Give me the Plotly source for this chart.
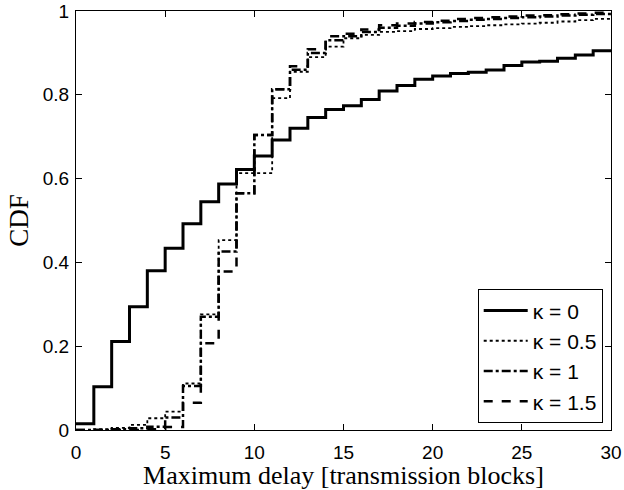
import plotly.graph_objects as go

x_blocks = list(range(0, 31))

cdf_k0 = [0.015, 0.103, 0.211, 0.294, 0.380, 0.434, 0.492, 0.545, 0.587, 0.622,
          0.654, 0.692, 0.720, 0.746, 0.765, 0.774, 0.789, 0.809, 0.822, 0.837,
          0.845, 0.851, 0.854, 0.859, 0.870, 0.878, 0.880, 0.887, 0.895, 0.905, 0.907]
cdf_k05 = [0.0, 0.002, 0.005, 0.012, 0.028, 0.044, 0.111, 0.276, 0.453, 0.613,
           0.613, 0.792, 0.855, 0.890, 0.915, 0.935, 0.943, 0.950, 0.952, 0.957,
           0.959, 0.962, 0.964, 0.966, 0.968, 0.970, 0.972, 0.975, 0.978, 0.981, 0.984]
cdf_k1 = [0.0, 0.0, 0.002, 0.004, 0.008, 0.030, 0.105, 0.270, 0.426, 0.565,
          0.704, 0.813, 0.860, 0.900, 0.930, 0.940, 0.950, 0.960, 0.965, 0.970,
          0.973, 0.976, 0.979, 0.981, 0.983, 0.985, 0.987, 0.989, 0.991, 0.993, 0.995]
cdf_k15 = [0.0, 0.0, 0.0, 0.0, 0.002, 0.007, 0.065, 0.207, 0.378, 0.565,
           0.704, 0.813, 0.868, 0.909, 0.940, 0.946, 0.956, 0.966, 0.970, 0.974,
           0.977, 0.981, 0.983, 0.985, 0.987, 0.989, 0.990, 0.992, 0.994, 0.996, 0.998]

series = [
    ("κ = 0", cdf_k0, "solid", 3),
    ("κ = 0.5", cdf_k05, "dot", 1.8),
    ("κ = 1", cdf_k1, "dashdot", 2.5),
    ("κ = 1.5", cdf_k15, "dash", 2.5),
]

fig = go.Figure()
for name, vals, dash, w in series:
    fig.add_trace(go.Scatter(x=x_blocks, y=vals, mode="lines", name=name,
                             line=dict(color="black", width=w, dash=dash, shape="hv")))

axis_common = dict(showline=True, linecolor="black", linewidth=1, mirror="ticks",
                   ticks="inside", ticklen=6, tickcolor="black", showgrid=False,
                   zeroline=False, automargin=False,
                   tickfont=dict(family="Liberation Sans, Arial", size=19, color="black"))

fig.update_layout(
    width=624, height=490,
    margin=dict(l=76, r=13, t=11, b=60, autoexpand=False),
    paper_bgcolor="white", plot_bgcolor="white",
    xaxis=dict(range=[0, 30], tickvals=[0, 5, 10, 15, 20, 25, 30],
               ticklabelstandoff=5,
               title=dict(text="Maximum delay [transmission blocks]", standoff=6,
                          font=dict(family="Liberation Serif, Times New Roman", size=26, color="black")),
               **axis_common),
    yaxis=dict(range=[0, 1], tickvals=[0, 0.2, 0.4, 0.6, 0.8, 1],
               ticktext=["0", "0.2", "0.4", "0.6", "0.8", "1"],
               ticklabelstandoff=2,
               title=dict(text="CDF", standoff=6,
                          font=dict(family="Liberation Serif, Times New Roman", size=27, color="black")),
               **axis_common),
    legend=dict(x=0.9845, y=0.016, xanchor="right", yanchor="bottom",
                bordercolor="black", borderwidth=1, bgcolor="white",
                font=dict(family="Liberation Sans, Arial", size=21, color="black"),
                tracegroupgap=0, itemwidth=44),
    showlegend=True,
)

fig.write_html("out.html")
